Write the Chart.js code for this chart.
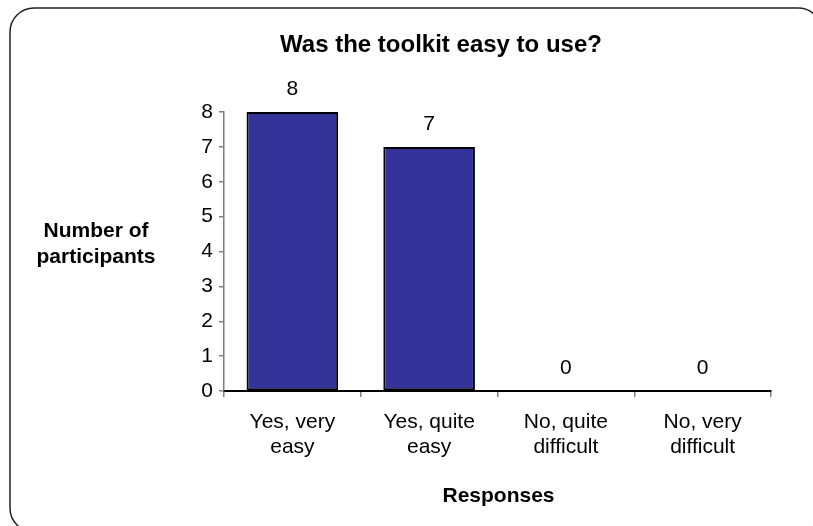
<!DOCTYPE html>
<html>
<head>
<meta charset="utf-8">
<script src="https://cdn.jsdelivr.net/npm/chart.js@4.4.0/dist/chart.umd.min.js"></script>
<style>
  body { margin: 0; background: #fff; }
  #wrap { position: relative; width: 813px; height: 526px; }
</style>
</head>
<body>
<div id="wrap"><canvas id="responsesChart" width="813" height="526"></canvas></div>
<script>
    // Survey answers
    const responseLabels = [['Yes, very', 'easy'], ['Yes, quite', 'easy'], ['No, quite', 'difficult'], ['No, very', 'difficult']];
    const participantCounts = [8, 7, 0, 0];
    const countTicks = [0, 1, 2, 3, 4, 5, 6, 7, 8];

    const chartTitle = 'Was the toolkit easy to use?';
    const yTitleLines = ['Number of', 'participants'];
    const xTitle = 'Responses';

    const fontFamily = 'Arial, "Liberation Sans", Helvetica, sans-serif';

    // Rounded frame, title, axis titles and value labels drawn on the canvas
    const decorations = {
        id: 'decorations',
        beforeDraw(chart) {
            const ctx = chart.ctx;
            ctx.save();
            ctx.strokeStyle = '#222';
            ctx.lineWidth = 1.5;
            ctx.beginPath();
            ctx.roundRect(10, 8, 812, 524, 24);
            ctx.stroke();
            ctx.restore();
        },
        afterDraw(chart) {
            const ctx = chart.ctx;
            ctx.save();
            ctx.fillStyle = '#000';
            ctx.textAlign = 'center';
            ctx.textBaseline = 'alphabetic';

            ctx.font = 'bold 24px ' + fontFamily;
            ctx.fillText(chartTitle, 441, 52);

            ctx.font = 'bold 21px ' + fontFamily;
            ctx.fillText(yTitleLines[0], 96, 237);
            ctx.fillText(yTitleLines[1], 96, 263);
            const area = chart.chartArea;
            ctx.fillText(xTitle, (area.left + area.right) / 2 + 1, 502);

            // value above each bar
            ctx.font = '21px ' + fontFamily;
            ctx.textBaseline = 'middle';
            const meta = chart.getDatasetMeta(0);
            meta.data.forEach((bar, i) => {
                ctx.fillText(String(participantCounts[i]), bar.x, bar.y - 23);
            });
            ctx.restore();
        }
    };

    const ctx = document.getElementById('responsesChart').getContext('2d');
    new Chart(ctx, {
        type: 'bar',
        data: {
            labels: responseLabels,
            datasets: [{
                data: participantCounts,
                backgroundColor: '#333399',
                borderColor: '#000',
                borderWidth: 2,
                borderSkipped: false,
                categoryPercentage: 1,
                barPercentage: 0.67
            }]
        },
        options: {
            responsive: false,
            animation: false,
            devicePixelRatio: 1,
            layout: { padding: { left: 0, right: 42, top: 112, bottom: 0 } },
            plugins: {
                legend: { display: false },
                title: { display: false },
                tooltip: { enabled: false }
            },
            scales: {
                x: {
                    afterFit(scale) { scale.height = 135; },
                    grid: {
                        offset: true,
                        drawOnChartArea: false,
                        drawTicks: true,
                        tickLength: 6,
                        color: '#808080',
                        lineWidth: 1.5
                    },
                    border: { display: true, color: '#000', width: 2 },
                    ticks: {
                        color: '#000',
                        padding: 13,
                        maxRotation: 0,
                        font: { family: fontFamily, size: 21, lineHeight: 1.19 }
                    }
                },
                y: {
                    min: 0,
                    max: 8,
                    afterFit(scale) { scale.width = 224; },
                    afterBuildTicks(scale) { scale.ticks = countTicks.map(v => ({ value: v })); },
                    grid: {
                        drawOnChartArea: false,
                        drawTicks: true,
                        tickLength: 5,
                        color: '#808080',
                        lineWidth: 1.5
                    },
                    border: { display: true, color: '#808080', width: 1.5 },
                    ticks: {
                        color: '#000',
                        padding: 6,
                        font: { family: fontFamily, size: 21 }
                    }
                }
            }
        },
        plugins: [decorations]
    });
</script>
</body>
</html>
